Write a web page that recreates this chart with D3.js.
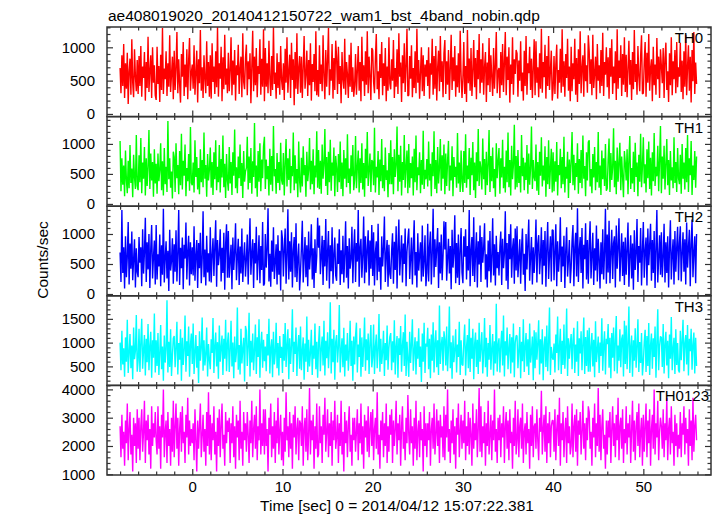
<!DOCTYPE html>
<html><head><meta charset="utf-8">
<script src="https://cdn.jsdelivr.net/npm/d3@7"></script>
<style>
html,body{margin:0;padding:0;background:#fff;}
svg{display:block;font-family:"Liberation Sans",Arial,Helvetica,sans-serif;}
</style></head>
<body><svg id="chart" width="717" height="516"></svg>
<script>
const title = "ae408019020_20140412150722_wam1_bst_4band_nobin.qdp";
const xLabel = "Time [sec] 0 = 2014/04/12 15:07:22.381";
const yLabel = "Counts/sec";
const categories = ["TH0", "TH1", "TH2", "TH3", "TH0123"];
const colors = ["#ff0000", "#00ff00", "#0000ff", "#00ffff", "#ff00ff"];
const tStart = -8, tStep = 0.1;
const xDomain = [-9.45, 57.5];
const xTickVals = [0, 10, 20, 30, 40, 50];
const yDomains = [[-40, 1305], [-38, 1455], [-30, 1463], [100, 1985], [975, 4141]];
const yTickVals = [[0, 500, 1000], [0, 500, 1000], [0, 500, 1000], [500, 1000, 1500], [1000, 2000, 3000, 4000]];
const yMinorStep = [100, 100, 100, 100, 200];

const th0 = [690,310,880,420,1050,240,760,380,920,150,640,830,290,1120,470,250,970,560,340,810,
300,870,420,1020,260,710,540,930,200,780,390,1160,330,650,880,240,1000,470,730,280,
210,1010,450,720,180,890,360,1290,300,680,520,940,270,760,410,1180,330,590,860,220,
950,360,690,1230,310,820,450,170,900,560,1080,270,740,400,970,220,800,1140,350,620,
740,380,1030,290,610,950,170,820,460,1260,350,700,240,880,530,310,1090,420,780,260,
880,230,1060,480,710,300,940,400,1300,260,760,530,1010,190,850,370,1190,440,680,310,
920,340,650,1150,280,800,440,960,200,730,580,1040,300,690,860,250,1210,480,370,840,
1040,280,790,520,910,160,700,1250,340,860,430,990,250,720,600,1120,290,830,410,1270,
190,990,410,760,310,1100,540,270,870,360,1300,450,620,230,910,390,780,290,1020,510,
360,760,210,980,470,1150,320,640,890,240,1070,510,820,130,930,380,1210,300,690,870,
320,860,240,700,1170,380,590,950,270,810,430,1060,200,750,480,900,340,1240,280,660,
260,1030,450,740,340,1180,570,220,960,410,800,1290,280,670,500,1050,230,840,360,1100,
850,300,1010,450,720,160,930,520,380,1130,290,780,600,240,890,410,1070,330,700,260,
430,900,290,650,1020,350,780,190,1160,490,730,270,940,440,1240,310,860,560,210,990,
960,480,310,830,1200,370,640,220,900,540,1080,280,760,420,990,190,710,350,1150,460,
370,820,500,1110,240,690,410,970,300,1210,560,770,180,880,460,1060,330,720,1280,270,
280,870,530,1030,250,690,390,940,310,1280,470,810,230,620,1000,340,880,270,740,560,
810,420,1000,230,760,590,1130,290,870,380,1020,200,690,950,340,1170,480,790,250,910,
1110,300,790,440,960,210,680,1190,360,850,490,1020,260,730,400,910,320,1250,580,240,
540,1080,300,720,180,1260,460,830,350,990,270,650,1110,400,840,220,960,520,1200,310,
820,470,1060,290,700,930,180,770,430,1140,330,880,550,270,990,380,720,1230,310,640,
690,240,930,430,1050,330,770,1230,280,860,510,1000,170,740,450,1150,290,820,600,960,
910,260,800,500,1090,340,620,200,950,420,1170,290,760,610,1010,360,830,240,690,1120,
280,1090,470,700,250,910,380,1280,320,780,550,1040,230,870,420,1170,360,650,950,200,
380,870,300,740,1040,230,660,470,980,320,1270,410,790,260,900,540,1130,350,710,190,
1010,340,760,520,1130,290,840,180,970,450,1240,310,690,880,260,1060,490,730,320,1180,
940,450,820,280,1190,390,610,860,220,1050,500,730,310,960,420,1220,270,780,590,1000,
400,850,230,990,560,1120,300,710,460,940,210,1270,380,800,540,1030,270,900,440,1150,
330,890,250,670,1100,440,810,210,930,370,1260,480,750,290,1020,560,340,870,1180,300,
310,780,1080,260,920,470,1200,350,690,820,190,1010,430,740,290,1140,520,860,240,970,
720,460,990,240,840,1070,360,640,180,910,430,1150,280,790,520,960,310,1080,400,700,
560,1070,330,800,220,940,410,1190,280,710,1030,350,860,170,960,490,1230,300,770,450];

const th1 = [1050,210,760,320,640,130,890,400,180,720,260,980,350,590,110,820,440,250,1150,300,
230,810,360,1100,180,690,420,950,140,760,300,620,1230,250,840,390,700,120,910,340,
670,170,840,380,560,1010,230,710,140,930,330,620,200,1380,410,760,270,540,90,870,
780,200,1010,430,650,160,880,310,1170,240,720,470,990,130,600,380,830,220,1280,350,
310,690,190,1060,450,780,240,600,160,910,360,730,280,1190,420,650,120,830,390,570,
940,270,700,150,860,410,1060,230,620,360,980,190,750,440,1140,280,670,100,830,390,
220,950,340,700,150,860,470,1240,260,610,180,790,430,990,300,680,100,880,370,540,
600,1120,240,790,350,930,170,710,450,1350,260,640,120,880,370,1010,210,740,430,960,
1120,250,740,410,630,140,920,320,800,210,1300,460,580,170,850,350,700,230,1020,400,
320,850,140,690,1080,290,760,400,920,180,630,460,1190,230,810,340,580,110,1040,380,
190,770,290,960,480,650,120,870,380,560,1100,240,720,330,910,160,640,440,1210,270,
900,250,720,170,990,420,650,1250,300,780,150,870,360,1070,220,690,470,940,130,800,
600,200,830,360,1040,250,690,130,900,420,760,280,1160,350,590,170,810,460,980,230,
410,1130,260,610,890,190,760,350,1010,240,680,120,920,430,1200,300,570,840,200,730,
700,310,1270,190,620,440,880,150,740,380,1080,260,650,210,940,400,560,110,850,330,
1060,330,780,160,910,450,640,1290,210,820,370,970,140,700,400,1150,270,620,890,180,
1000,270,680,430,790,140,920,360,1140,230,610,480,860,180,730,320,1220,250,570,410,
750,290,1040,390,670,130,860,460,1210,250,730,180,950,340,600,1080,220,810,420,990,
160,840,300,710,1050,220,640,390,960,130,780,450,620,270,1180,340,690,200,890,370,
200,880,350,1160,270,640,410,930,150,770,480,1030,230,690,100,860,380,1250,300,710,
590,240,1090,410,750,150,870,310,660,1230,200,800,380,940,260,580,120,1010,430,720,
930,170,760,440,1070,260,620,190,890,360,1190,280,730,140,970,410,650,1320,240,800,
280,900,350,630,190,1150,460,770,230,690,400,980,170,840,320,600,1290,250,730,440,
380,990,220,700,150,870,470,1110,290,640,390,960,120,780,330,1060,250,590,920,190,
860,210,710,370,1030,140,650,480,920,260,780,330,1120,190,620,420,870,100,740,350,
710,1200,310,820,230,680,450,1010,170,750,350,900,260,1140,420,630,130,860,390,1030,
1060,290,580,180,830,440,950,230,700,360,1200,270,640,150,890,410,760,300,1000,220,
260,740,1090,200,850,400,610,1260,280,720,160,940,370,680,1020,230,790,450,110,880,
680,390,910,160,740,1130,250,600,340,870,200,1020,450,690,130,820,370,1170,280,630,
1110,340,660,190,910,430,1040,250,770,140,860,380,1180,300,620,460,970,210,730,1300,
180,790,420,970,240,660,1080,310,730,150,880,390,610,260,1110,350,700,200,930,430,
330,820,170,1000,420,690,240,930,360,1150,200,760,480,1050,150,640,400,880,270,790];

const th2 = [690,200,1400,350,780,90,960,280,620,1200,160,840,420,1040,230,580,910,110,760,370,
280,950,520,780,130,1080,340,690,1270,200,860,410,1000,100,750,1150,260,620,890,160,
1150,240,660,460,990,130,810,320,1420,190,600,880,260,720,50,1070,390,550,930,170,
830,370,1060,210,680,1400,150,770,430,940,80,820,590,1190,240,710,970,140,860,330,
780,310,1130,220,640,900,100,850,430,1020,180,590,1380,280,740,140,970,360,680,210,
1110,190,640,930,300,790,1230,120,900,480,660,1080,210,770,350,1020,70,830,1160,270,
1050,270,560,820,80,940,400,700,1180,230,630,920,150,790,340,1090,200,610,860,290,
590,990,160,740,1260,320,680,910,100,850,510,1120,230,600,980,180,800,400,1200,140,
170,1000,440,750,1430,210,670,120,890,370,1110,250,540,830,160,980,320,720,60,1060,
920,290,760,1090,170,640,1410,240,880,370,1030,110,720,950,280,1180,200,580,840,60,
380,770,1220,190,600,950,280,810,130,1040,410,660,1160,240,760,100,910,350,630,1270,
770,1140,330,610,970,150,900,460,1250,220,700,1050,90,810,380,1110,170,660,940,310,
220,840,500,1080,150,730,330,970,190,650,1210,270,800,90,930,420,580,1120,180,750,
1080,200,850,540,1400,120,780,920,270,630,1290,180,960,360,740,1060,140,890,420,1150,
300,1030,140,690,880,230,1170,370,610,70,960,460,770,1290,200,660,900,120,820,340,
250,720,1010,170,870,400,1130,90,760,1240,310,650,980,190,840,500,1090,130,710,920,
1090,250,590,940,160,780,1230,310,700,110,1010,390,640,860,210,1140,290,550,980,130,
360,1170,210,790,1040,160,680,1420,280,910,450,770,1100,100,860,340,990,230,640,1210,
740,1200,220,600,920,340,800,80,1070,440,680,1310,180,850,270,990,150,720,1100,360,
180,960,620,1080,240,800,390,1400,130,730,950,300,1280,200,670,1030,110,880,490,1140,
200,950,520,770,1180,240,660,110,890,380,1050,190,610,1260,310,830,140,970,430,700,
310,790,1040,150,920,430,680,1380,220,850,80,1000,580,1160,270,750,930,170,1090,390,
1130,280,590,910,170,760,1090,320,670,50,1000,410,840,1240,220,620,950,160,780,350,
700,1240,190,840,980,330,620,1110,160,900,470,1050,120,780,1200,250,660,960,210,1070,
1060,230,710,1160,130,880,370,640,1280,200,790,460,970,100,730,1110,290,570,900,180,
440,890,1150,130,770,1020,290,1430,200,730,950,350,1100,90,820,580,1180,240,900,170,
820,1210,260,650,1020,150,760,390,1140,210,920,600,90,860,330,1080,240,690,1420,170,
990,360,1220,180,690,1070,250,850,960,110,1140,420,780,1260,210,640,1010,300,870,150,
940,320,750,1190,120,630,980,260,840,70,1060,400,680,1250,200,800,520,1100,140,720,
1200,270,720,940,140,1090,480,810,1170,220,900,350,1050,100,760,1400,190,610,980,320,
1030,280,610,1170,190,860,350,960,110,770,1230,240,660,910,160,1050,370,780,1120,230,
850,1130,210,680,1030,370,910,160,1190,440,770,1070,130,840,1240,280,700,960,180,1000];

const th3 = [1000,420,1250,540,880,280,1110,600,1480,360,790,1180,460,940,230,1320,650,830,1580,390,
620,1290,380,1010,1500,450,840,1160,310,1080,590,1390,420,920,1230,260,1050,680,1610,370,
1050,510,1200,320,770,1370,440,920,200,1150,580,860,1890,370,1020,490,1280,300,730,1090,
1140,480,900,1440,330,990,640,1280,200,1100,530,860,1570,390,1030,720,1340,280,960,1190,
550,1400,340,810,1160,470,930,150,1240,620,880,1530,410,1050,520,760,1320,290,970,640,
440,1070,780,1520,360,930,1210,500,1010,240,1360,600,890,1150,320,1080,660,1480,400,980,
1210,380,850,1460,500,1000,250,1130,590,800,1740,430,950,330,1290,560,870,1100,180,1350,
1250,510,920,1630,290,1040,580,1190,420,850,1380,340,1110,700,1490,260,970,1230,470,1060,
610,920,400,1180,730,1500,350,890,1070,270,1230,540,780,1420,460,990,310,1140,680,910,
360,1180,620,1410,490,950,1280,230,1090,550,940,1700,380,1020,760,1320,300,900,1160,450,
1340,420,840,1110,220,980,600,1550,380,1060,500,790,1270,320,940,660,1400,440,1020,260,
990,1350,400,870,1130,520,1460,310,1040,670,1220,460,920,1850,350,1080,590,1270,220,1010,
1160,580,910,1790,370,830,1090,480,1310,290,960,620,1200,410,770,1460,510,1040,200,1130,
540,1150,1420,370,960,700,1300,280,1110,490,930,1530,410,1070,630,1190,340,980,1370,480,
690,1380,340,920,1170,460,860,1600,390,1080,550,810,1250,300,990,630,1360,430,890,1120,
1200,420,1030,580,1470,330,910,1140,260,1090,740,1350,390,950,1220,510,1590,300,1020,650,
280,1230,570,970,1490,410,840,1110,330,1030,660,1300,490,920,170,1190,600,1420,360,980,
920,1310,440,1080,250,1170,620,1430,370,990,1260,480,1050,320,1780,550,940,1120,410,1240,
1070,520,1340,400,880,1760,460,1010,240,1150,590,850,1280,370,960,700,1440,320,1050,540,
520,1040,1380,310,910,1160,460,1500,380,1100,660,1290,230,970,1210,490,1060,340,1420,600,
900,1220,350,770,1520,480,1100,280,990,640,1370,430,860,1180,310,1030,560,1820,390,950,
1090,370,960,1250,520,1570,290,1030,730,1320,440,880,1180,350,1110,580,1400,270,1000,1150,
1140,460,830,1330,250,1020,610,1490,380,910,1200,500,1070,320,1400,580,800,1130,210,1260,
460,1220,640,990,1470,330,1070,560,1280,210,940,1130,490,1360,400,1020,1740,320,910,690,
640,980,370,1170,780,1550,420,900,1290,340,1040,530,1380,450,870,1720,300,1090,660,960,
1180,440,1050,1310,360,960,600,1450,300,1090,770,1240,420,980,1530,340,1120,510,1260,390,
1310,390,920,1200,500,1060,270,1450,590,840,1130,360,1000,720,1510,410,940,1240,330,1080,
970,1390,470,1100,250,1200,680,1320,400,1030,1560,350,940,620,1280,480,1080,1170,290,1460,
550,1360,440,980,1760,360,890,1150,280,1050,620,1300,470,930,1490,380,1010,570,1200,310,
580,1010,1270,380,1140,510,1410,320,950,1190,450,1090,700,1340,260,1000,1700,420,930,1130,
1110,490,1390,350,960,1230,520,1040,250,1170,660,1540,420,880,1100,340,1280,530,990,420,
370,1250,630,1040,1480,400,990,1160,540,1370,310,1080,820,1290,430,960,1210,350,1100,510];

const th0123 = [2700,1600,3100,1900,2500,1300,2900,2100,3500,1500,2600,3200,1700,2400,1100,3000,2000,2800,1400,3300,
1900,3000,1500,2700,3300,1800,2500,3600,1400,2900,2200,3100,1700,2600,1200,3400,2000,2800,2300,3200,
2200,1700,3400,1900,2700,1200,3100,2300,4000,1600,2500,2900,1400,3200,2000,2600,1300,3000,1800,3600,
1600,2700,3500,1900,3000,1300,2600,3200,1800,3400,2100,2500,1400,3100,2300,3700,1700,2900,2000,2600,
2100,2800,1500,3300,2200,1100,2900,1900,2700,3500,1600,2400,3100,1800,2600,1300,3200,2000,3900,1700,
3100,1500,2800,2200,3400,1700,2500,1100,3000,2000,3300,1600,2700,3500,1900,2400,1300,3200,2100,2900,
2500,3000,1400,2800,2100,3400,1600,2700,1200,3100,2300,2900,1500,3600,1900,2500,1300,3200,2200,2800,
1800,3200,2400,1400,2900,2100,3600,1600,2600,3100,1900,3400,1500,2700,2200,4000,1700,2800,2000,3300,
1700,3300,2000,2600,1100,3000,2400,3500,1600,2700,1900,3200,1400,2900,2100,3700,1700,2500,3100,1500,
2500,1300,3000,1800,3900,2200,2700,1600,3200,1900,2800,1200,3100,2300,3400,1700,2600,3000,1500,2900,
2800,2000,3400,1300,2600,3000,1800,3300,1500,2400,4050,1700,2900,2200,3100,1200,2700,1900,3500,1600,
1700,3400,2100,2700,1400,3100,2400,3700,1800,2500,3300,1600,2800,2000,3200,1300,2900,2200,3600,1900,
2300,3100,1400,2800,2000,3600,1700,2500,1100,3200,2100,2900,1600,2700,3400,1800,2400,1300,3000,2200,
3000,1800,2500,3300,1500,2800,2100,3500,1700,2700,1200,3100,2300,2900,1800,3400,1600,2600,3200,2000,
3300,1500,2600,3000,1900,3900,1700,2400,1200,2900,2200,3200,1600,2800,2000,3500,1400,2700,1800,3100,
2400,3300,1400,2900,2000,2600,3600,1700,2800,2200,3100,1300,2700,3400,1900,2500,1500,3000,2100,3800,
2400,1700,3300,2100,2700,1300,3000,1900,3600,1500,2500,2900,1600,3200,2200,2600,1100,3400,2000,2800,
1600,2800,2200,3200,1300,2600,3000,1900,3500,1700,2400,3300,2000,2900,1400,3100,2300,2700,1600,3400,
1500,3100,2300,4000,1800,2600,1400,2900,2100,3300,1700,2700,1200,3000,2400,3500,1600,2500,3100,1900,
2900,2100,3600,1500,2700,2000,3200,1700,3000,2400,1300,3500,1900,2800,2200,3300,1600,2600,4050,1800,
3400,1600,2700,2100,3200,1300,2800,2000,3600,1700,2400,3100,1500,2900,2200,4000,1800,2600,1400,3000,
2200,3100,1600,2800,2300,3400,1400,2700,3200,1900,2900,1500,3300,2100,2500,1200,3000,2000,3600,1700,
2200,3300,1600,2700,3000,1900,3500,1400,2500,2800,1700,3200,2100,2600,1200,3100,2000,3400,1600,2700,
2800,1900,3300,2200,1500,3000,2500,3950,1700,2600,3100,1800,3400,1400,2800,2100,3200,1600,2700,2900,
2900,1800,3300,1500,2600,3100,2000,3700,1300,2800,2200,3200,1600,2500,3000,1400,3400,2100,2700,1700,
2000,3500,1600,2700,3100,1800,3300,1300,2900,2400,3200,1700,2500,3600,1900,2800,1500,3000,2200,3400,
3200,1900,2500,1300,3000,2300,3500,1600,2800,2000,4050,1800,3100,1500,2700,3300,1900,2400,1200,2900,
1700,2900,2300,3200,1400,2600,3400,2000,2800,1600,3100,2200,3700,1500,2700,3000,1900,3300,1400,2600,
2100,3400,1700,2800,2300,3100,1400,2600,3600,1800,2900,1500,2700,3200,2000,3500,1600,2500,3000,1300,
3100,1800,2700,3500,1600,2900,2100,3300,1300,2600,3100,1900,4000,1700,2800,2300,3600,1500,2500,3000,
2700,1900,3300,1600,2800,2200,3700,1500,2600,3000,1700,3400,2100,2500,1300,3100,2000,2800,1600,2400,
1900,3200,1600,2800,2400,3400,1700,3000,2100,2600,1300,3300,2000,2900,1500,3700,1800,2700,3100,2200];

const seriesValues = [th0, th1, th2, th3, th0123];

// ---- layout ----
const svg = d3.select("#chart");
const pLeft = 107, pRight = 711, pTop = 27, pBottom = 475;
const nP = categories.length;
const ph = (pBottom - pTop) / nP;
const labelEnd = [703, 703, 703, 703, 709];

const x = d3.scaleLinear().domain(xDomain).range([pLeft, pRight]);
const axisColor = "#333";

svg.append("text").attr("x", 108).attr("y", 21).attr("font-size", 15.5).attr("fill", "#000").text(title);

categories.forEach((cat, i) => {
  const y0 = pTop + i * ph, y1 = y0 + ph;
  const y = d3.scaleLinear().domain(yDomains[i]).range([y1, y0]);
  const g = svg.append("g");
  const clipId = "clip" + i;
  svg.append("clipPath").attr("id", clipId).append("rect")
    .attr("x", pLeft).attr("y", y0).attr("width", pRight - pLeft).attr("height", ph);

  const vals = seriesValues[i];
  const pts = vals.map((v, k) => [tStart + k * tStep, v]);
  const line = d3.line().x(d => x(d[0])).y(d => y(d[1]));
  g.append("path").datum(pts).attr("clip-path", `url(#${clipId})`)
    .attr("d", line).attr("fill", "none").attr("stroke", colors[i]).attr("stroke-width", 1.4)
    .attr("stroke-linejoin", "bevel");

  const xMinor = d3.range(-8, 58, 2).filter(v => v % 10 !== 0);
  const bAx = d3.axisBottom(x).tickValues(xTickVals).tickSize(-6).tickPadding(6)
    .tickFormat(i === nP - 1 ? d3.format("d") : "");
  g.append("g").attr("transform", `translate(0,${y1})`).call(bAx);
  g.append("g").attr("transform", `translate(0,${y1})`).call(d3.axisBottom(x).tickValues(xMinor).tickSize(-3.5).tickFormat(""));
  g.append("g").attr("transform", `translate(0,${y0})`).call(d3.axisTop(x).tickValues(xTickVals).tickSize(-6).tickFormat(""));
  g.append("g").attr("transform", `translate(0,${y0})`).call(d3.axisTop(x).tickValues(xMinor).tickSize(-3.5).tickFormat(""));

  const d = yDomains[i];
  const yMinor = d3.range(Math.ceil(d[0] / yMinorStep[i]) * yMinorStep[i], d[1], yMinorStep[i]).filter(v => !yTickVals[i].includes(v));
  g.append("g").attr("transform", `translate(${pLeft},0)`).call(d3.axisLeft(y).tickValues(yTickVals[i]).tickSize(-6).tickPadding(12).tickFormat(d3.format("d")));
  g.append("g").attr("transform", `translate(${pLeft},0)`).call(d3.axisLeft(y).tickValues(yMinor).tickSize(-3.5).tickFormat(""));
  g.append("g").attr("transform", `translate(${pRight},0)`).call(d3.axisRight(y).tickValues(yTickVals[i]).tickSize(-6).tickFormat(""));
  g.append("g").attr("transform", `translate(${pRight},0)`).call(d3.axisRight(y).tickValues(yMinor).tickSize(-3.5).tickFormat(""));

  g.selectAll(".domain").remove();
  g.selectAll(".tick line").attr("stroke", axisColor).attr("stroke-width", 1.2);
  g.selectAll(".tick text").attr("font-size", 15).attr("fill", "#000")
    .attr("font-family", '"Liberation Sans",Arial,Helvetica,sans-serif');

  g.append("rect").attr("x", pLeft).attr("y", y0).attr("width", pRight - pLeft).attr("height", ph)
    .attr("fill", "none").attr("stroke", axisColor).attr("stroke-width", 1.5);

  svg.append("text").attr("x", labelEnd[i]).attr("y", y0 + 16).attr("text-anchor", "end")
    .attr("font-size", 15).attr("fill", "#000").text(cat);
});

svg.append("text").attr("x", 397).attr("y", 511).attr("text-anchor", "middle").attr("font-size", 15.5).attr("fill", "#000").text(xLabel);
svg.append("text").attr("transform", "translate(48,260) rotate(-90)").attr("text-anchor", "middle")
  .attr("font-size", 15.5).attr("fill", "#000").text(yLabel);
</script></body></html>
